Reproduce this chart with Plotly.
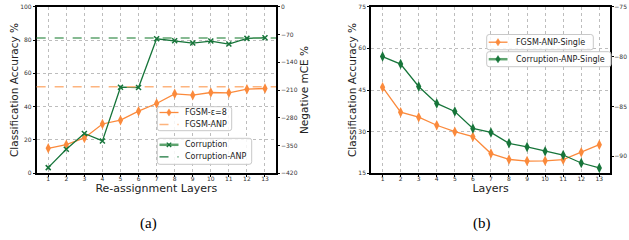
import plotly.graph_objects as go

layers = list(range(1, 14))

# (a) left panel
fgsm_eps8 = [15.0, 17.2, 21.2, 29.6, 31.9, 37.3, 41.9, 47.7, 46.9, 48.5, 48.3, 50.5, 50.9]
fgsm_anp = 52.0
corruption = [-405.7, -359.5, -319.6, -338.5, -202.9, -203.7, -80.8, -85.7, -91.6, -86.6, -94.2, -79.8, -78.3]
corruption_anp = -79.0

# (b) right panel
fgsm_anp_single = [46.0, 37.0, 35.2, 32.3, 30.0, 28.2, 22.1, 20.0, 19.4, 19.5, 19.9, 22.6, 25.3]
corruption_anp_single = [-80.0, -80.75, -83.0, -84.7, -85.5, -87.2, -87.6, -88.7, -89.06, -89.5, -89.87, -90.67, -91.17]

left_ticks = [0, 20, 40, 60, 80, 100]
right_ticks_a = [-420, -350, -280, -210, -140, -70, 0]
left_ticks_b = [15, 30, 45, 60, 75]
right_ticks_b = [-90, -85, -80, -75]

ORANGE = "#fb8a3c"
ORANGE_L = "#fdb47e"
GREEN = "#17753a"
GREEN_L = "#5fa46f"
FONT = "DejaVu Sans"
W, H = 629, 240

fig = go.Figure()

fig.add_trace(go.Scatter(
    x=layers, y=fgsm_eps8, name="FGSM-ε=8", mode="lines+markers",
    line=dict(color=ORANGE, width=1.3),
    marker=dict(symbol="diamond-tall", size=7.5, color=ORANGE),
    xaxis="x", yaxis="y", showlegend=False))
fig.add_trace(go.Scatter(
    x=layers, y=corruption, name="Corruption", mode="lines+markers",
    line=dict(color=GREEN, width=1.3),
    marker=dict(symbol="x-thin", size=5, color=GREEN, line=dict(color=GREEN, width=1.5)),
    xaxis="x", yaxis="y2", showlegend=False))
fig.add_shape(type="line", xref="x domain", yref="y", x0=0, x1=1, y0=fgsm_anp, y1=fgsm_anp,
              line=dict(color=ORANGE_L, width=1.5, dash="dash"), layer="above")
fig.add_shape(type="line", xref="x domain", yref="y2", x0=0, x1=1, y0=corruption_anp, y1=corruption_anp,
              line=dict(color=GREEN_L, width=1.5, dash="dash"), layer="above")

fig.add_trace(go.Scatter(
    x=layers, y=fgsm_anp_single, name="FGSM-ANP-Single", mode="lines+markers",
    line=dict(color=ORANGE, width=1.3),
    marker=dict(symbol="diamond-tall", size=7.5, color=ORANGE),
    xaxis="x2", yaxis="y3", showlegend=False))
fig.add_trace(go.Scatter(
    x=layers, y=corruption_anp_single, name="Corruption-ANP-Single", mode="lines+markers",
    line=dict(color=GREEN, width=1.3),
    marker=dict(symbol="diamond-tall", size=7.5, color=GREEN),
    xaxis="x2", yaxis="y4", showlegend=False))


# ---- hand-drawn legends (matplotlib style boxes), positions in pixels ----
def px(x, y):
    return x / W, 1 - y / H


def P(x, y):
    a, b = px(x, y)
    return f"{a:.5f},{b:.5f}"


def rounded_box(x0, y0, x1, y1, r=2.5):
    path = (f"M {P(x0 + r, y0)} L {P(x1 - r, y0)} Q {P(x1, y0)} {P(x1, y0 + r)} "
            f"L {P(x1, y1 - r)} Q {P(x1, y1)} {P(x1 - r, y1)} L {P(x0 + r, y1)} "
            f"Q {P(x0, y1)} {P(x0, y1 - r)} L {P(x0, y0 + r)} Q {P(x0, y0)} {P(x0 + r, y0)} Z")
    fig.add_shape(type="path", path=path, xref="paper", yref="paper",
                  fillcolor="rgba(255,255,255,0.85)", line=dict(color="#c8c8c8", width=1), layer="above")


def seg(x0, x1, y, color, width, dash="solid"):
    a0, b = px(x0, y)
    a1, _ = px(x1, y)
    fig.add_shape(type="line", xref="paper", yref="paper", x0=a0, x1=a1, y0=b, y1=b,
                  line=dict(color=color, width=width, dash=dash), layer="above")


def diamond(cx, cy, color, hw=2.3, hh=3.6):
    path = f"M {P(cx, cy - hh)} L {P(cx + hw, cy)} L {P(cx, cy + hh)} L {P(cx - hw, cy)} Z"
    fig.add_shape(type="path", path=path, xref="paper", yref="paper",
                  fillcolor=color, line=dict(color=color, width=0.5), layer="above")


def xmark(cx, cy, color, s=2.2):
    for dy in (-s, s):
        a0, b0 = px(cx - s, cy - dy)
        a1, b1 = px(cx + s, cy + dy)
        fig.add_shape(type="line", xref="paper", yref="paper", x0=a0, x1=a1, y0=b0, y1=b1,
                      line=dict(color=color, width=1.3), layer="above")


def label(x, y, text):
    a, b = px(x, y)
    fig.add_annotation(text=text, x=a, y=b, xref="paper", yref="paper", xanchor="left",
                       yanchor="middle", showarrow=False,
                       font=dict(size=8, family=FONT, color="#222"))


# legend 1 (left panel, FGSM)
rounded_box(157.3, 106.7, 231.7, 130.7)
seg(159.5, 178.5, 112.5, ORANGE, 1.3)
diamond(169, 112.5, ORANGE)
label(182.5, 112.5, "FGSM-ε=8")
seg(159.5, 178.5, 124.5, ORANGE_L, 1.5, "dash")
label(182.5, 124.5, "FGSM-ANP")

# legend 2 (left panel, Corruption)
rounded_box(157.3, 138.3, 251.7, 164.3)
seg(159.5, 178.5, 144.8, GREEN_L, 2.5)
xmark(169, 144.8, GREEN)
label(182.5, 144.8, "Corruption")
seg(159.5, 178.5, 156.8, GREEN, 1.2, "dash")
label(182.5, 156.8, "Corruption-ANP")

# legend 3/4 (right panel)
rounded_box(486.7, 34.5, 593.3, 49.8)
seg(488.7, 507.5, 42.2, ORANGE, 1.3)
diamond(498, 42.2, ORANGE)
label(513.5, 42.2, "FGSM-ANP-Single")
rounded_box(486.7, 51.7, 611.0, 66.7)
seg(488.7, 507.5, 59.2, GREEN_L, 2.5)
diamond(498, 59.2, GREEN)
label(513.5, 59.2, "Corruption-ANP-Single")


ydom = [0.278, 0.972]
TICKFONT = dict(size=6, color="#333", family=FONT)
common_x = dict(
    range=[0.36, 13.61], tickvals=layers, showgrid=True, griddash="dot",
    gridcolor="#bdbdbd", gridwidth=1, showline=True, linecolor="black", linewidth=1.6,
    mirror=True, ticks="outside", ticklen=2, tickcolor="black",
    tickfont=TICKFONT, zeroline=False, ticklabelstandoff=-3)
common_y = dict(
    showgrid=True, griddash="dot", gridcolor="#bdbdbd", gridwidth=1, showline=True,
    linecolor="black", linewidth=1.6, ticks="outside", ticklen=2, tickcolor="black",
    tickfont=TICKFONT, zeroline=False, domain=ydom)
common_y2 = dict(
    showgrid=False, showline=True, linecolor="black", linewidth=1.6, ticks="outside",
    ticklen=2, tickcolor="black", tickfont=TICKFONT,
    zeroline=False, side="right")

TITLEFONT = dict(size=10.5, family=FONT, color="#222")

fig.update_layout(
    width=W, height=H, margin=dict(l=0, r=0, t=0, b=0, autoexpand=False),
    paper_bgcolor="white", plot_bgcolor="white", font=dict(family=FONT), showlegend=False,
    hovermode=False,
    xaxis=dict(common_x, domain=[0.0583, 0.4388], anchor="y", automargin=False,
               title=dict(text="Re-assignment Layers", font=dict(size=11, family=FONT, color="#222"), standoff=3)),
    yaxis=dict(common_y, range=[0, 100], tickvals=left_ticks, anchor="x", automargin=False,
               title=dict(text="Classification Accuracy %", font=TITLEFONT, standoff=0)),
    yaxis2=dict(common_y2, range=[-420, 0], tickvals=right_ticks_a, overlaying="y", anchor="x", automargin=False,
                title=dict(text="Negative mCE %", font=TITLEFONT, standoff=0)),
    xaxis2=dict(common_x, domain=[0.5898, 0.9703], anchor="y3", automargin=False,
                title=dict(text="Layers", font=dict(size=11, family=FONT, color="#222"), standoff=3)),
    yaxis3=dict(common_y, range=[15, 75], tickvals=left_ticks_b, anchor="x2", automargin=False,
                title=dict(text="Classification Accuracy %", font=TITLEFONT, standoff=0)),
    yaxis4=dict(common_y2, range=[-91.7, -75], tickvals=right_ticks_b, overlaying="y3", anchor="x2",
                automargin=False, ticklabelstandoff=-1),
    annotations=list(fig.layout.annotations) + [
        dict(text="(a)", x=148 / W, y=1 - 223 / H, xref="paper", yref="paper", showarrow=False,
             xanchor="center", yanchor="middle", font=dict(family="Liberation Serif", size=15, color="black")),
        dict(text="(b)", x=482 / W, y=1 - 223 / H, xref="paper", yref="paper", showarrow=False,
             xanchor="center", yanchor="middle", font=dict(family="Liberation Serif", size=15, color="black")),
    ],
)

fig.write_html("out.html", config={"displayModeBar": False},
               post_script="document.body.style.margin='0';document.body.style.overflow='hidden';")
